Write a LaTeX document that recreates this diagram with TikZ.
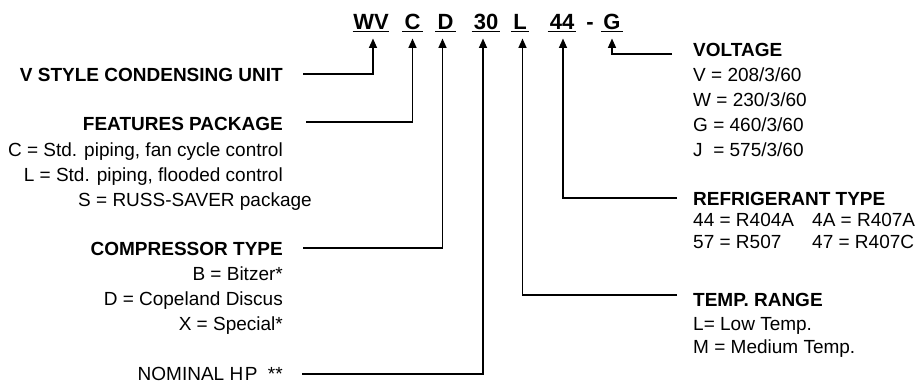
\documentclass[tikz,border=0pt]{standalone}
\usepackage{fontspec}
\setmainfont{Liberation Sans}
\usetikzlibrary{arrows.meta}
\begin{document}
\begin{tikzpicture}[x=1pt,y=-1pt,
  txt/.style={inner sep=0pt, font=\fontsize{19}{25}\selectfont},
  hd/.style={inner sep=0pt, font=\fontsize{19}{25}\selectfont\bfseries},
  code/.style={inner sep=0pt, anchor=base, font=\fontsize{22}{26}\selectfont\bfseries},
  uline/.style={line width=1.5pt},
  lead/.style={line width=1.6pt, -{Triangle[length=9.5pt,width=8pt]}, line join=miter},
]
\useasboundingbox[fill=white] (0,0) rectangle (919,385);

% model code
\node[code] (wv)  at (371,29.3)   {WV};
\node[code] (c)   at (412.5,29.3) {C};
\node[code] (d)   at (445.5,29.3) {D};
\node[code] (n30) at (486,29.3)   {30};
\node[code] (l)   at (520,29.3)   {L};
\node[code] (n44) at (562,29.3)   {44};
\node[code] (dsh) at (590,29.3)   {-};
\node[code] (g)   at (612,29.3)   {G};
\foreach \n/\e in {wv/0.5, c/2, d/2, n30/2, l/2, n44/2, g/2}
  \draw[uline] ([xshift=-\e pt, yshift=-2.4pt]\n.base west) -- ([xshift=\e pt, yshift=-2.4pt]\n.base east);

% arrow tips
\coordinate (twv)  at ([xshift=2pt,  yshift=-9.2pt]wv.base);
\coordinate (tc)   at ([xshift=0pt,  yshift=-9.2pt]c.base);
\coordinate (td)   at ([xshift=-3pt, yshift=-9.2pt]d.base);
\coordinate (t30)  at ([xshift=-3pt, yshift=-9.2pt]n30.base);
\coordinate (tl)   at ([xshift=2.5pt,yshift=-9.2pt]l.base);
\coordinate (t44)  at ([xshift=1pt,  yshift=-9.2pt]n44.base);
\coordinate (tg)   at ([xshift=0pt,  yshift=-9.2pt]g.base);

% left side texts
\node[hd,  anchor=base east] (vstyle) at (283,81.2) {V STYLE CONDENSING UNIT};
\node[hd,  anchor=base east] (feat)   at (283,130.7) {FEATURES PACKAGE};
\node[txt, anchor=base east] (featc)  at (283,156.7) {C = Std. piping, fan cycle control};
\node[txt, anchor=base east] (featl)  at (283,181.3) {L = Std. piping, flooded control};
\node[txt, anchor=base west] (feats)  at (78,206.7)  {S = RUSS-SAVER package};
\node[hd,  anchor=base east] (comp)   at (283,255)   {COMPRESSOR TYPE};
\node[txt, anchor=base east] (compb)  at (283,280)   {B = Bitzer*};
\node[txt, anchor=base east] (compd)  at (283,305)   {D = Copeland Discus};
\node[txt, anchor=base east] (compx)  at (283,330.3) {X = Special*};
\node[txt, anchor=base east] (nom)    at (283,380.3) {NOMINAL H\kern1.5pt P\ \ **};

% right side texts
\node[hd,  anchor=base west] (volt)   at (693,56.7)  {VOLTAGE};
\node[txt, anchor=base west] (voltv)  at (693,82)    {V = 208/3/60};
\node[txt, anchor=base west] (voltw)  at (693,107)   {W = 230/3/60};
\node[txt, anchor=base west] (voltg)  at (693,132)   {G = 460/3/60};
\node[txt, anchor=base west] (voltj)  at (693,157)   {J\ \ = 575/3/60};
\node[hd,  anchor=base west] (refr)   at (693,206)   {REFRIGERANT TYPE};
\node[txt, anchor=base west] (refa)   at (693,226.7) {44 = R404A};
\node[txt, anchor=base west] (refb)   at (812,226.7) {4A = R407A};
\node[txt, anchor=base west] (refc)   at (693,248.3) {57 = R507};
\node[txt, anchor=base west] (refd)   at (812,248.3) {47 = R407C};
\node[hd,  anchor=base west] (temp)   at (693,306)   {TEMP. RANGE};
\node[txt, anchor=base west] (templ)  at (693,330.3) {L= Low Temp.};
\node[txt, anchor=base west] (tempm)  at (693,353.7) {M = Medium Temp.};

% leader line ends
\coordinate (evs)   at (303,74);
\coordinate (efeat) at (306,122);
\coordinate (ecomp) at (303,248);
\coordinate (enom)  at (302,374);
\coordinate (evolt) at (672,54);
\coordinate (erefr) at (677,198);
\coordinate (etemp) at (677,295);

\draw[lead] (evs)   -| (twv);
\draw[lead] (efeat) -| (tc);
\draw[lead] (ecomp) -| (td);
\draw[lead] (enom)  -| (t30);
\draw[lead] (etemp) -| (tl);
\draw[lead] (erefr) -| (t44);
\draw[lead] (evolt) -| (tg);
\end{tikzpicture}
\end{document}
